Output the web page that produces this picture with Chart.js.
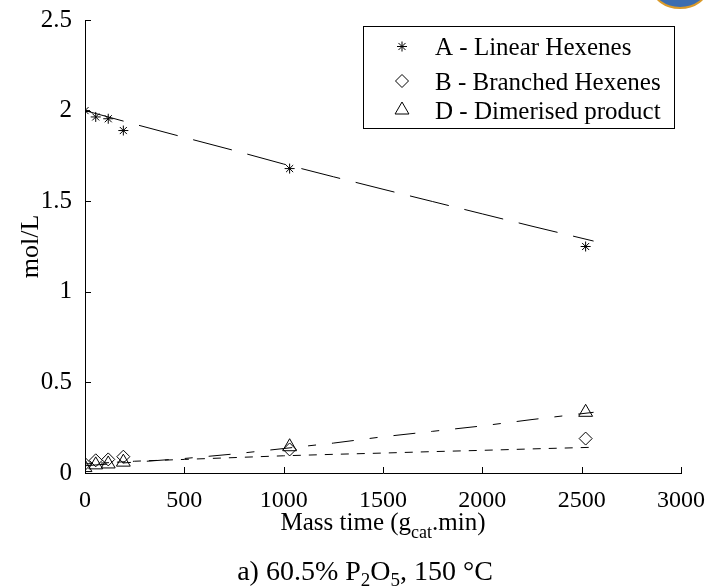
<!DOCTYPE html>
<html>
<head>
<meta charset="utf-8">
<script src="https://cdn.jsdelivr.net/npm/chart.js@4.4.0/dist/chart.umd.min.js"></script>
<style>
    html, body { margin: 0; padding: 0; background: #fff; }
    #chartContainer { width: 710px; height: 586px; }
</style>
</head>
<body>
<div id="chartContainer"><canvas id="myChart" width="710" height="586"></canvas></div>
<script>
// punti misurati
const timeMeasured = [0, 54, 117, 193, 1030, 2520];
const linearA = [2.0, 1.965, 1.955, 1.89, 1.68, 1.25];
const branchedB = [0.05, 0.07, 0.075, 0.09, 0.13, 0.19];
const dimerD = [0.03, 0.045, 0.05, 0.06, 0.145, 0.335];

// curve del modello (linee tratteggiate)
const timeModel = [0, 250, 500, 750, 1000, 1250, 1500, 1750, 2000, 2250, 2560];
const modelA = [2.0, 1.925, 1.852, 1.78, 1.705, 1.635, 1.566, 1.498, 1.43, 1.362, 1.28];
const modelB = [0.05, 0.065, 0.075, 0.085, 0.095, 0.103, 0.11, 0.118, 0.125, 0.133, 0.142];
const modelD = [0.04, 0.06, 0.08, 0.105, 0.135, 0.165, 0.2, 0.23, 0.26, 0.295, 0.335];

const xTicks = [0, 500, 1000, 1500, 2000, 2500, 3000];
const yTicks = [0, 0.5, 1, 1.5, 2, 2.5];

const serif = '"Liberation Serif", "Times New Roman", serif';

function toPoints(xs, ys) {
    return xs.map((x, i) => ({ x: x, y: ys[i] }));
}

// scrive testo con pedici, centrato su cx
function drawParts(c, parts, cx, baseY) {
    c.textBaseline = 'alphabetic';
    c.textAlign = 'left';
    c.fillStyle = '#000';
    let w = 0;
    parts.forEach(p => {
        c.font = p[1] + 'px ' + serif;
        w += c.measureText(p[0]).width;
    });
    let x = cx - w / 2;
    parts.forEach(p => {
        c.font = p[1] + 'px ' + serif;
        c.fillText(p[0], x, baseY + p[2]);
        x += c.measureText(p[0]).width;
    });
}

const extras = {
    id: 'extras',
    afterDraw(chart) {
        const c = chart.ctx;
        const xs = chart.scales.x;
        const ys = chart.scales.y;
        c.save();

        // pezzo di logo tagliato in alto a destra
        c.beginPath();
        c.ellipse(680, -12, 27, 20, 0, 0, Math.PI * 2);
        c.fillStyle = '#3c6db0';
        c.fill();
        c.strokeStyle = '#d99a2b';
        c.lineWidth = 2;
        c.stroke();

        c.strokeStyle = '#000';
        c.lineWidth = 1;

        // tacche verso l'interno
        c.beginPath();
        xTicks.forEach(v => {
            const px = Math.round(xs.getPixelForValue(v)) + 0.5;
            c.moveTo(px, ys.bottom);
            c.lineTo(px, ys.bottom - 6);
        });
        yTicks.forEach(v => {
            const py = Math.round(ys.getPixelForValue(v)) + 0.5;
            c.moveTo(xs.left, py);
            c.lineTo(xs.left + 6, py);
        });
        c.stroke();

        // legenda
        c.fillStyle = '#fff';
        c.fillRect(363.5, 26.5, 311, 102);
        c.strokeRect(363.5, 26.5, 311, 102);
        const rows = [46.5, 81, 110];
        const entries = chart.data.datasets.filter(d => !d.showLine);
        entries.forEach((d, i) => {
            const opts = { pointStyle: d.pointStyle, radius: d.pointRadius, rotation: 0, borderWidth: 1 };
            c.strokeStyle = '#000';
            c.fillStyle = 'rgba(0,0,0,0)';
            Chart.helpers.drawPoint(c, opts, 402, rows[i]);
            c.fillStyle = '#000';
            c.font = '25px ' + serif;
            c.textAlign = 'left';
            c.textBaseline = 'alphabetic';
            c.fillText(d.label, 435, rows[i] + 8.5);
        });

        // titolo asse x e didascalia
        drawParts(c, [['Mass time (g', 25, 0], ['cat', 18, 8], ['.min)', 25, 0]], 383, 530);
        drawParts(c, [['a) 60.5% P', 28, 0], ['2', 19, 6], ['O', 28, 0], ['5', 19, 6], [', 150 °C', 28, 0]], 365, 580);
        c.restore();
    }
};

const ctx = document.getElementById('myChart').getContext('2d');
const myChart = new Chart(ctx, {
    type: 'scatter',
    data: {
        datasets: [
            {
                label: 'A - Linear Hexenes',
                data: toPoints(timeMeasured, linearA),
                pointStyle: 'star',
                pointRadius: 5,
                borderColor: '#000',
                backgroundColor: 'rgba(0,0,0,0)',
                borderWidth: 1,
                showLine: false,
            },
            {
                label: 'B - Branched Hexenes',
                data: toPoints(timeMeasured, branchedB),
                pointStyle: 'rectRot',
                pointRadius: 6.5,
                borderColor: '#000',
                backgroundColor: 'rgba(0,0,0,0)',
                borderWidth: 1,
                showLine: false,
            },
            {
                label: 'D - Dimerised product',
                data: toPoints(timeMeasured, dimerD),
                pointStyle: 'triangle',
                pointRadius: 8,
                borderColor: '#000',
                backgroundColor: 'rgba(0,0,0,0)',
                borderWidth: 1,
                showLine: false,
            },
            {
                label: 'modello A',
                data: toPoints(timeModel, modelA),
                showLine: true,
                pointRadius: 0,
                borderColor: '#000',
                borderWidth: 1,
                borderDash: [40, 16],
                tension: 0,
            },
            {
                label: 'modello B',
                data: toPoints(timeModel, modelB),
                showLine: true,
                pointRadius: 0,
                borderColor: '#000',
                borderWidth: 1,
                borderDash: [8, 8],
                tension: 0,
            },
            {
                label: 'modello D',
                data: toPoints(timeModel, modelD),
                showLine: true,
                pointRadius: 0,
                borderColor: '#000',
                borderWidth: 1,
                borderDash: [22, 16, 8, 16],
                tension: 0,
            },
        ]
    },
    options: {
        responsive: false,
        animation: false,
        layout: { padding: { top: 15, right: 28, left: 0, bottom: 0 } },
        scales: {
            x: {
                type: 'linear',
                min: 0,
                max: 3000,
                afterBuildTicks: s => { s.ticks = xTicks.map(v => ({ value: v })); },
                afterFit: s => { s.height = 113; },
                ticks: {
                    callback: v => String(v),
                    font: { family: serif, size: 24 },
                    color: '#000',
                    padding: 5,
                    maxRotation: 0,
                    autoSkip: false,
                },
                grid: { display: false },
                border: { display: true, color: '#000', width: 1 },
            },
            y: {
                min: 0,
                max: 2.5,
                afterBuildTicks: s => { s.ticks = yTicks.map(v => ({ value: v })); },
                afterFit: s => { s.width = 85; },
                ticks: {
                    callback: v => String(v),
                    font: { family: serif, size: 25 },
                    color: '#000',
                    padding: 5,
                    autoSkip: false,
                },
                grid: { display: false },
                border: { display: true, color: '#000', width: 1 },
                title: {
                    display: true,
                    text: 'mol/L',
                    font: { family: serif, size: 26 },
                    color: '#000',
                    padding: { top: 16, bottom: 0 },
                },
            }
        },
        plugins: {
            legend: { display: false },
            tooltip: { enabled: false },
        },
    },
    plugins: [extras]
});
</script>
</body>
</html>
